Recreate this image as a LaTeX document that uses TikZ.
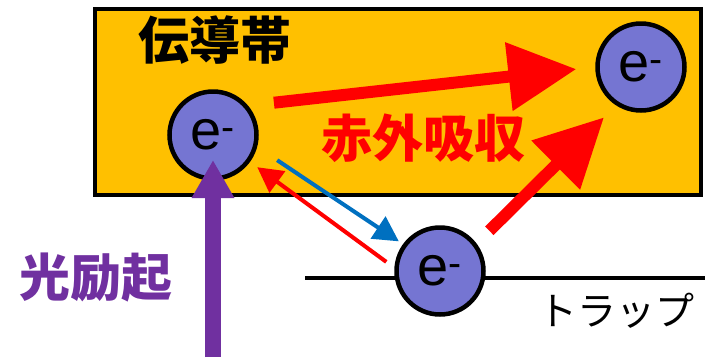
\documentclass[tikz,border=0pt]{standalone}
\usepackage{fontspec}
\setmainfont{Liberation Sans}
\newfontfamily\jpfont{Noto Sans CJK JP}
\usetikzlibrary{arrows.meta}
\definecolor{bandfill}{RGB}{255,192,0}
\definecolor{elecfill}{RGB}{117,117,210}
\definecolor{optpurple}{RGB}{112,48,160}
\definecolor{relaxblue}{RGB}{0,112,192}
\tikzset{
  elec/.style={circle, draw=black, line width=4.5pt, fill=elecfill, minimum size=87pt, inner sep=0pt, font=\fontsize{56}{56}\selectfont},
  jplabel/.style={font=\jpfont\bfseries\fontsize{51}{51}\selectfont},
  bigred/.style={draw=red, line width=12pt, -{Triangle[length=68pt,width=66pt]}},
  thinarrow/.style={line width=4pt, -{Triangle[length=25pt,width=26pt]}}
}

\begin{document}
\begin{tikzpicture}[x=1pt, y=-1pt]
\useasboundingbox (0,0) rectangle (707,357);
\filldraw[fill=bandfill, draw=black, line width=4.5pt] (95,9) rectangle (701,195);
\draw[line width=4pt] (305,278) -- (705,278);

\node[jplabel] (band) at (215,40) {伝導帯};
\node[jplabel, text=red] (ir) at (423,138) {赤外吸収};
\node[jplabel, text=optpurple] (opt) at (96,278) {光励起};
\node[font=\jpfont\fontsize{39}{39}\selectfont] (trap) at (616,311) {トラップ};

\node[elec] (ea) at (213,135) {e\textsuperscript{-}};
\node[elec] (eb) at (641,67) {e\textsuperscript{-}};
\node[elec] (ec) at (440,271) {e\textsuperscript{-}};
\coordinate (src) at (213,357);

\draw[bigred, shorten <=26pt, shorten >=19pt] (ea.40) -- (eb.180);
\draw[bigred, shorten <=18pt, shorten >=17pt] (ec.37) -- (eb.237);
\draw[thinarrow, draw=relaxblue, shorten <=24pt, shorten >=5pt] (ea.345) -- (ec.144);
\draw[thinarrow, draw=red, shorten <=10pt, shorten >=9pt] (ec.176) -- (ea.324);
\draw[draw=optpurple, line width=16pt, -{Triangle[length=38pt,width=40pt]}, shorten >=25pt] (src) -- (ea.center);
\end{tikzpicture}
\end{document}
